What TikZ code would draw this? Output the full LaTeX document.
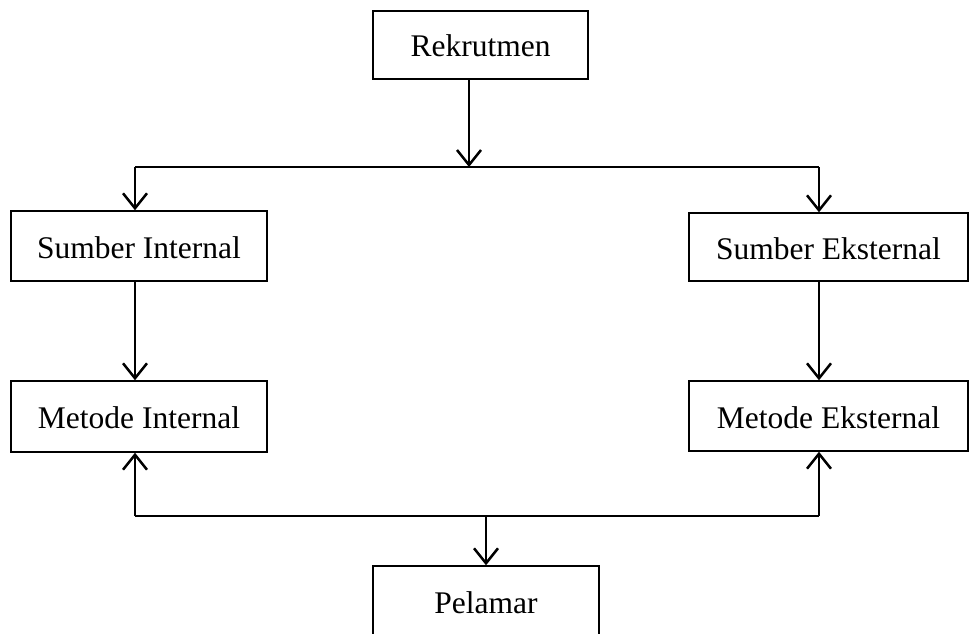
\documentclass[tikz,border=0pt]{standalone}
\usepackage{fontspec}
\setmainfont{Liberation Serif}
\usetikzlibrary{arrows.meta}
\begin{document}
\begin{tikzpicture}[x=1pt,y=-1pt,
  box/.style={draw=black,line width=1.4pt,rectangle,inner sep=0pt,
    font=\fontsize{31.5}{36}\selectfont,text height=24pt,text depth=0pt},
  conn/.style={draw=black,line width=2.5pt},
  arr/.style={conn,-{Straight Barb[length=15pt,width=24pt,line width=2.5pt]}}
]
\useasboundingbox (0,0) rectangle (969,634);
\node[box,minimum width=215pt,minimum height=68pt] (rek) at (480.5,45) {Rekrutmen};
\node[box,minimum width=256pt,minimum height=70pt] (si) at (139,246) {Sumber Internal};
\node[box,minimum width=279pt,minimum height=68pt] (se) at (828.5,247) {Sumber Eksternal};
\node[box,minimum width=256pt,minimum height=71pt] (mi) at (139,416.5) {Metode Internal};
\node[box,minimum width=279pt,minimum height=70pt] (me) at (828.5,416) {Metode Eksternal};
\node[box,minimum width=226pt,minimum height=70pt] (pel) at (486,601) {Pelamar};
\coordinate (tj) at (469,167);
\coordinate (tl) at (135,167);
\coordinate (tr) at (819,167);
\coordinate (bl) at (135,516);
\coordinate (br) at (819,516);
\coordinate (bj) at (486,516);
\draw[arr] (rek.south -| tj) -- (tj);
\draw[conn] (tl) -- (tr);
\draw[arr] (tl) -- (si.north -| tl);
\draw[arr] (tr) -- (se.north -| tr);
\draw[arr] (si.south -| tl) -- (mi.north -| tl);
\draw[arr] (se.south -| tr) -- (me.north -| tr);
\draw[conn] (bl) -- (br);
\draw[arr] (bl) -- (mi.south -| bl);
\draw[arr] (br) -- (me.south -| br);
\draw[arr] (bj) -- (pel.north -| bj);
\end{tikzpicture}
\end{document}
